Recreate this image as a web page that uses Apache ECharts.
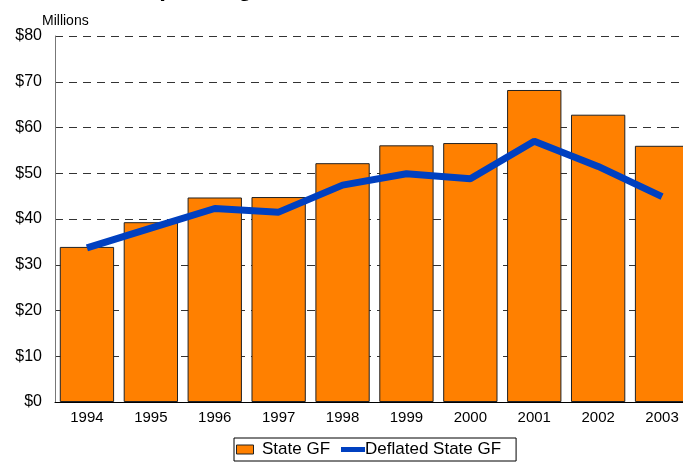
<!DOCTYPE html>
<html>
<head>
<meta charset="utf-8">
<script src="https://cdn.jsdelivr.net/npm/echarts@6/dist/echarts.min.js"></script>
<style>
  html, body { margin: 0; padding: 0; background: #fff; }
  #chart { width: 683px; height: 462px; }
</style>
</head>
<body>
<div id="chart"></div>
<script>
// data
const years = ["1994", "1995", "1996", "1997", "1998", "1999", "2000", "2001", "2002", "2003"];
const stateGF = [33.9, 39.3, 44.7, 44.8, 52.2, 56.1, 56.6, 68.2, 62.8, 56.0];
const deflatedGF = [33.7, 38.0, 42.3, 41.5, 47.4, 49.9, 48.8, 57.0, 51.5, 44.9];

let myChart = echarts.init(document.getElementById("chart"));
const font = "Liberation Sans, Arial, sans-serif";
myChart.setOption({
  animation: false,
  textStyle: { fontFamily: font },
  title: {
    text: "State GF Spending",
    left: 33,
    top: -28,
    textStyle: { fontSize: 24, fontWeight: "bold", color: "#000", fontFamily: font }
  },
  grid: { left: 55, width: 639, top: 36, height: 366, outerBoundsMode: "none" },
  legend: {
    left: 234,
    top: 438,
    padding: [3, 15, 3, 2],
    itemGap: 11,
    itemWidth: 24,
    itemHeight: 9,
    borderColor: "#000",
    borderWidth: 1,
    borderRadius: 0,
    textStyle: { fontSize: 17, color: "#000", fontFamily: font },
    data: [
      { name: "State GF", icon: "path://M0,0H17V9H0Z", itemStyle: { color: "#FF8000", borderColor: "#222", borderWidth: 1 } },
      { name: "Deflated State GF", icon: "path://M0,0H24V5H0Z", itemStyle: { color: "#0040C0", borderWidth: 0 }, textStyle: { padding: [0, 0, 0, -5] } }
    ]
  },
  xAxis: {
    type: "category",
    data: years,
    axisLine: { lineStyle: { color: "#000", width: 1 } },
    axisTick: { show: false },
    axisLabel: { fontSize: 15, color: "#000", margin: 8, fontFamily: font }
  },
  yAxis: {
    type: "value",
    min: 0,
    max: 80,
    interval: 10,
    name: "Millions",
    nameLocation: "end",
    nameGap: 7,
    nameTextStyle: { fontSize: 14, color: "#000", align: "left", padding: [0, 0, 0, -13], fontFamily: font },
    axisLine: { show: true, lineStyle: { color: "#777", width: 1 } },
    axisTick: { show: false },
    axisLabel: {
      fontSize: 16, color: "#000", margin: 13, fontFamily: font,
      formatter: v => "$" + v
    },
    splitLine: { lineStyle: { color: "#333", type: [8, 6], width: 1 } }
  },
  series: [
    {
      name: "State GF",
      type: "bar",
      data: stateGF,
      barCategoryGap: "15%",
      itemStyle: { color: "#FF8000", borderColor: "#222", borderWidth: 1 }
    },
    {
      name: "Deflated State GF",
      type: "line",
      data: deflatedGF,
      symbol: "none",
      lineStyle: { color: "#0040C0", width: 7 },
      itemStyle: { color: "#0040C0" }
    }
  ]
});
</script>
</body>
</html>
